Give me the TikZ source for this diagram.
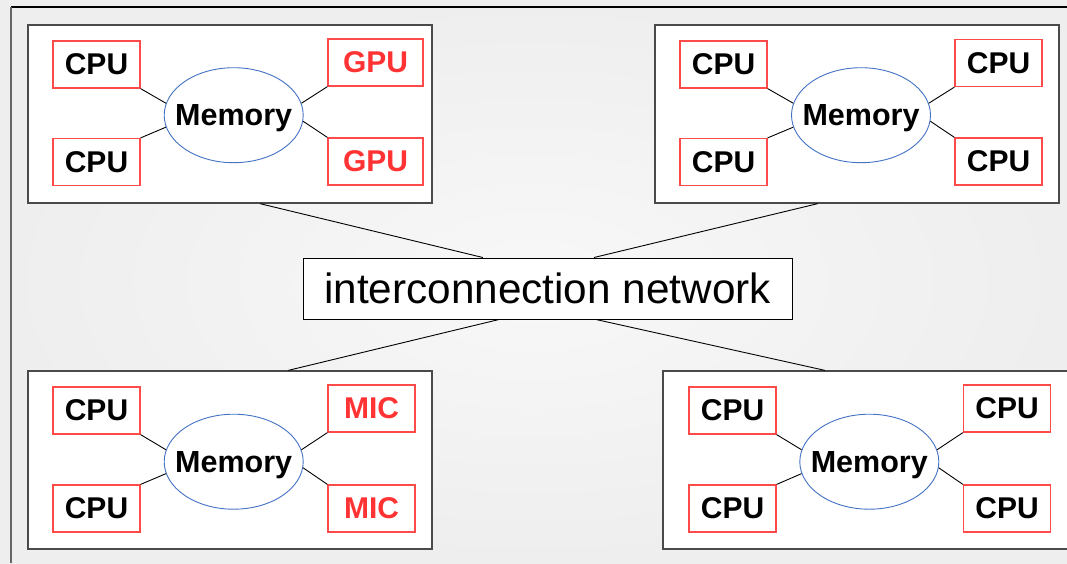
\documentclass[tikz,border=0pt]{standalone}
\usepackage{fontspec}
\setmainfont{Liberation Sans}
\usetikzlibrary{shapes.geometric,calc}
\definecolor{bgout}{HTML}{EEEEEE}
\definecolor{bgin}{HTML}{F8F8F8}
\definecolor{boxgray}{HTML}{4A4A4A}
\definecolor{framegray}{HTML}{666666}
\definecolor{redb}{HTML}{FF4A4A}
\definecolor{redt}{HTML}{FF3333}
\definecolor{memblue}{HTML}{4472C4}
\tikzset{
  sysbox/.style={draw=boxgray, line width=1.3pt, fill=white, rectangle, inner sep=0pt, minimum height=178pt},
  unitbox/.style={draw=redb, line width=1.2pt, fill=white, rectangle, inner sep=0pt, minimum width=87pt, minimum height=47pt, font=\fontsize{30}{35}\selectfont\bfseries},
  redtext/.style={text=redt},
  membox/.style={ellipse, draw=memblue, line width=0.9pt, fill=white, inner sep=0pt, minimum width=139pt, minimum height=95pt,
    label={[font=\fontsize{30.5}{35}\selectfont\bfseries, inner sep=0pt, yshift=-3pt]center:Memory}},
  netbox/.style={draw=black, line width=1pt, fill=white, rectangle, inner sep=0pt, minimum width=489pt, minimum height=61pt, font=\fontsize{42.3}{50}\selectfont},
  link/.style={draw=black, line width=0.9pt}
}
\begin{document}
\begin{tikzpicture}[x=1pt,y=-1pt]
\useasboundingbox (0,0) rectangle (1067,563);
\shade[inner color=bgin, outer color=bgout] (0,0) rectangle (1067,563);
\draw[black, line width=1.3pt] (11,7) -- (1067,7);
\draw[framegray, line width=1.5pt] (11,7) -- (11,563);

% systems
\node[sysbox, minimum width=404pt] (s1) at (230,114) {};
\node[sysbox, minimum width=404pt] (s2) at (857,114) {};
\node[sysbox, minimum width=404pt] (s3) at (230,460) {};
\node[sysbox, minimum width=406pt] (s4) at (866,460) {};

% network
\node[netbox] (net) at (547.5,288.5) {interconnection network};

% system 1
\node[unitbox] (c11) at (96.5,64.5) {CPU};
\node[unitbox] (c12) at (96.5,162) {CPU};
\node[unitbox, redtext, minimum width=95pt] (g11) at (375.5,62.5) {GPU};
\node[unitbox, redtext, minimum width=95pt] (g12) at (375.5,161.5) {GPU};
\node[membox] (m1) at (233.7,115.2) {};

% system 2
\node[unitbox] (c21) at (723.5,64.5) {CPU};
\node[unitbox] (c22) at (723.5,162) {CPU};
\node[unitbox] (c23) at (998.5,63) {CPU};
\node[unitbox] (c24) at (998.5,161.5) {CPU};
\node[membox] (m2) at (861,115.2) {};

% system 3
\node[unitbox] (c31) at (96.5,410.5) {CPU};
\node[unitbox] (c32) at (96.5,508.5) {CPU};
\node[unitbox, redtext] (g31) at (371.5,408.5) {MIC};
\node[unitbox, redtext] (g32) at (371.5,508.5) {MIC};
\node[membox] (m3) at (233.7,461.7) {};

% system 4
\node[unitbox] (c41) at (732.5,410.5) {CPU};
\node[unitbox] (c42) at (732.5,508.5) {CPU};
\node[unitbox] (c43) at (1007,408.5) {CPU};
\node[unitbox] (c44) at (1007,508.5) {CPU};
\node[membox] (m4) at (869.3,461.7) {};

% memory links
\foreach \m/\a/\b/\c/\d in {m1/c11/c12/g11/g12, m2/c21/c22/c23/c24, m3/c31/c32/g31/g32, m4/c41/c42/c43/c44}{
  \draw[link] (\a.south east) -- (\m.170);
  \draw[link] (\b.north east) -- (\m.190);
  \draw[link] (\c.south west) -- (\m.10);
  \draw[link] (\d.north west) -- (\m.-5);
}

% network links
\draw[link] ($(s1.south west)!0.574!(s1.south east)$) -- ($(net.north west)!0.368!(net.north east)$);
\draw[link] ($(s2.south west)!0.403!(s2.south east)$) -- ($(net.north west)!0.595!(net.north east)$);
\draw[link] ($(net.south west)!0.401!(net.south east)$) -- ($(s3.north west)!0.644!(s3.north east)$);
\draw[link] ($(net.south west)!0.599!(net.south east)$) -- ($(s4.north west)!0.399!(s4.north east)$);
\end{tikzpicture}
\end{document}
